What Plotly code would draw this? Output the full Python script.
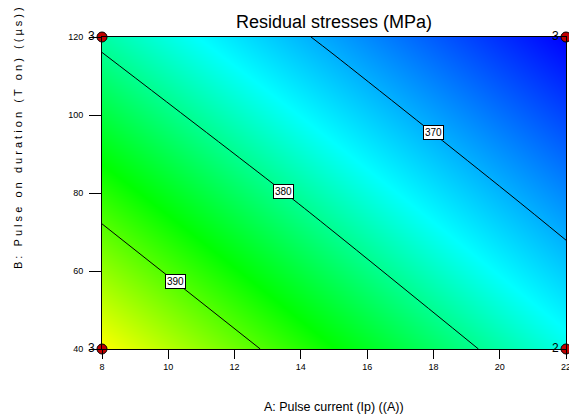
import numpy as np
import plotly.graph_objects as go

# Factor levels (grid) and estimated response values (MPa)
pulse_current = [8, 15, 22]          # A: Pulse current (A)
pulse_on = [40, 80, 120]             # B: Pulse on duration (us)
residual_stress = [                  # rows follow pulse_on, columns follow pulse_current
    [397.3, 386.6, 376.0],
    [388.2, 377.8, 367.4],
    [379.1, 369.0, 358.8],
]
contour_levels = [370, 380, 390]
label_b = [95.4, 80.3, 57.4]         # B value where each contour label sits

# Design points at the corners and their replicate counts
design_a = [8, 22, 8, 22]
design_b = [120, 120, 40, 40]
design_count = ["3", "3", "3", "2"]

x_ticks = [8, 10, 12, 14, 16, 18, 20, 22]
y_ticks = [40, 60, 80, 100, 120]

Z = np.array(residual_stress)
xa = np.array(pulse_current, float)
yb = np.array(pulse_on, float)


def level_a(level, b):
    col = np.array([np.interp(b, yb, Z[:, j]) for j in range(len(xa))])
    fine = np.linspace(xa[0], xa[-1], 2001)
    zf = np.interp(fine, xa, col)
    return float(np.interp(level, zf[::-1], fine[::-1]))


colorscale = [
    [0.0, "#0000ff"],
    [0.42, "#00ffff"],
    [0.72, "#00ff00"],
    [1.0, "#ffff00"],
]

FONT = "Liberation Sans, Arial"
NB = "\u00a0"

y_title_words = ["B:", "Pulse", "on", "duration", "(T", "on)", "((µs))"]
y_title = (NB * 3).join(NB.join(list(w)) for w in y_title_words)

fig = go.Figure()
fig.add_trace(go.Heatmap(
    x=pulse_current, y=pulse_on, z=residual_stress,
    zsmooth="best", colorscale=colorscale, showscale=False,
    hoverinfo="skip",
))
fig.add_trace(go.Contour(
    x=pulse_current, y=pulse_on, z=residual_stress,
    contours=dict(start=contour_levels[0], end=contour_levels[-1],
                  size=10, coloring="none"),
    line=dict(color="black", width=1),
    showscale=False, hoverinfo="skip",
))

fig.add_trace(go.Scatter(
    x=design_a, y=design_b, mode="markers+text",
    text=design_count,
    textposition="middle left",
    textfont=dict(family=FONT, size=12, color="black"),
    marker=dict(symbol="circle", size=10, color="#c00000",
                line=dict(color="black", width=1)),
    cliponaxis=False, showlegend=False, hoverinfo="skip",
))

annotations = []
for lvl, b in zip(contour_levels, label_b):
    annotations.append(dict(
        x=level_a(lvl, b), y=b, xref="x", yref="y", text=str(lvl),
        showarrow=False, bgcolor="white", bordercolor="black", borderwidth=1,
        borderpad=1, font=dict(family=FONT, size=10, color="black"),
    ))

annotations.append(dict(
    x=0.5, y=-0.186, xref="paper", yref="paper",
    xanchor="center", yanchor="middle",
    text="A: Pulse current (Ip) ((A))", showarrow=False,
    font=dict(family=FONT, size=12.5, color="black"),
))
annotations.append(dict(
    x=-0.181, y=0.676, xref="paper", yref="paper", textangle=-90,
    xanchor="center", yanchor="middle",
    text=y_title, showarrow=False,
    font=dict(family=FONT, size=11, color="black"),
))

axis_common = dict(
    showgrid=False, zeroline=False, ticks="outside",
    tickcolor="black", linecolor="black", linewidth=1, mirror=True,
    tickfont=dict(family=FONT, size=9, color="black"),
    ticklabeloverflow="allow",
)

fig.update_layout(
    width=569, height=419,
    margin=dict(l=102, r=3, t=37, b=70, autoexpand=False),
    paper_bgcolor="white", plot_bgcolor="white",
    title=dict(text="Residual stresses (MPa)", x=0.5, xref="paper",
               y=1 - 22 / 419, yanchor="middle",
               font=dict(family=FONT, size=18, color="black")),
    xaxis=dict(range=[8, 22], tickvals=x_ticks, ticklen=9, **axis_common),
    yaxis=dict(range=[40, 120], tickvals=y_ticks, ticklen=12,
               ticklabelstandoff=4, **axis_common),
    annotations=annotations,
    showlegend=False,
)

fig.write_html("out.html", config={"displayModeBar": False},
               post_script="document.body.style.margin='0';document.body.style.overflow='hidden';")
